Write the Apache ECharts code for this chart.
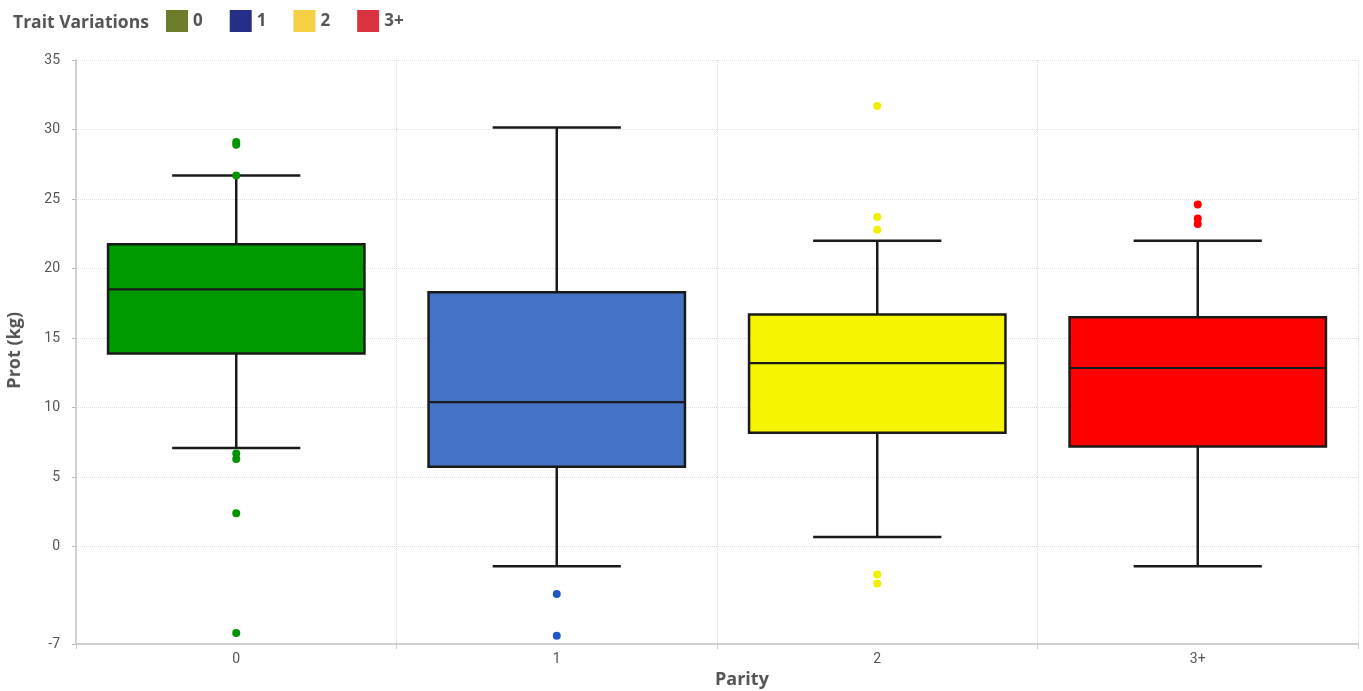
<!DOCTYPE html>
<html>
<head>
<meta charset="utf-8">
<script src="https://cdn.jsdelivr.net/npm/echarts@6/dist/echarts.min.js"></script>
<style>
html,body{margin:0;padding:0;background:#fff;}
#chart{width:1363px;height:691px;}
</style>
</head>
<body>
<div id="chart"></div>
<script>
// ---- data ----
const categories = ['0', '1', '2', '3+'];
const lowWhisker = [7.1, -1.4, 0.7, -1.4];
const q1 = [13.9, 5.75, 8.2, 7.2];
const median = [18.5, 10.4, 13.2, 12.85];
const q3 = [21.75, 18.3, 16.7, 16.5];
const highWhisker = [26.7, 30.15, 22.0, 22.0];
const outliers0 = [29.1, 28.9, 26.7, 6.7, 6.3, 2.4, -6.2];
const outliers1 = [-3.4, -6.4];
const outliers2 = [31.7, 23.7, 22.8, -2.0, -2.65];
const outliers3 = [24.6, 23.6, 23.2];
const yTicks = [-7, 0, 5, 10, 15, 20, 25, 30, 35];
const legendColors = ['#6b7d2a', '#252f87', '#f7cf45', '#d9343f'];
const boxColors = ['#009900', '#4472c4', '#f5f500', '#ff0000'];
const dotColors = ['#009400', '#1f58c4', '#f0f000', '#ff0000'];

const outliers = [outliers0, outliers1, outliers2, outliers3];

function renderBox(params, api) {
  const ci = api.value(0);
  const lo = api.coord([ci, api.value(1)]);
  const b1 = api.coord([ci, api.value(2)]);
  const md = api.coord([ci, api.value(3)]);
  const b3 = api.coord([ci, api.value(4)]);
  const hi = api.coord([ci, api.value(5)]);
  const band = api.size([1, 0])[0];
  const bw = band * 0.8, cw = band * 0.4;
  const cx = lo[0];
  const ls = {stroke: '#1a1a1a', lineWidth: 2.5};
  return {
    type: 'group',
    children: [
      {type: 'line', shape: {x1: cx, y1: hi[1], x2: cx, y2: b3[1]}, style: ls},
      {type: 'line', shape: {x1: cx, y1: b1[1], x2: cx, y2: lo[1]}, style: ls},
      {type: 'line', shape: {x1: cx - cw / 2, y1: hi[1], x2: cx + cw / 2, y2: hi[1]}, style: ls},
      {type: 'line', shape: {x1: cx - cw / 2, y1: lo[1], x2: cx + cw / 2, y2: lo[1]}, style: ls},
      {type: 'rect', shape: {x: cx - bw / 2, y: b3[1], width: bw, height: b1[1] - b3[1]},
        style: {fill: boxColors[ci], stroke: '#1a1a1a', lineWidth: 2.5}},
      {type: 'line', shape: {x1: cx - bw / 2, y1: md[1], x2: cx + bw / 2, y2: md[1]}, style: {stroke: '#1a1a1a', lineWidth: 2.2}}
    ]
  };
}

const series = [];
categories.forEach((c, i) => {
  series.push({
    name: c,
    type: 'custom',
    itemStyle: {color: legendColors[i]},
    renderItem: renderBox,
    encode: {x: 0, y: [1, 2, 3, 4, 5]},
    data: [[i, lowWhisker[i], q1[i], median[i], q3[i], highWhisker[i]]],
    z: 2
  });
});
categories.forEach((c, i) => {
  series.push({
    name: 'out' + c,
    type: 'scatter',
    symbolSize: 8,
    itemStyle: {color: dotColors[i], opacity: 1},
    data: outliers[i].map(v => [i, v]),
    z: 5
  });
});

const labelFont = {fontFamily: 'Open Sans', fontWeight: 'bold', fontSize: 17, color: '#555'};

const chart = echarts.init(document.getElementById('chart'));
chart.setOption({
  animation: false,
  backgroundColor: '#fff',
  title: {
    text: 'Trait Variations', left: 8, top: 9,
    textStyle: {fontFamily: 'Open Sans', fontWeight: 'bold', fontSize: 17.5, color: '#555'}
  },
  legend: {
    data: categories, left: 161, top: 5,
    icon: 'rect', itemWidth: 22, itemHeight: 22, itemGap: 27,
    textStyle: labelFont
  },
  grid: {left: 76, right: 5, top: 60, bottom: 47},
  xAxis: {
    type: 'category', data: categories, boundaryGap: true,
    axisLine: {onZero: false, lineStyle: {color: '#d0d0d0', width: 2}},
    axisTick: {show: true, lineStyle: {color: '#ccc'}},
    axisLabel: {color: '#555', fontSize: 14, fontFamily: 'Roboto', margin: 8},
    splitLine: {show: true, lineStyle: {color: '#d8d8d8', type: 'dotted', width: 1}}
  },
  yAxis: {
    type: 'value', min: -7, max: 35,
    axisLine: {show: true, lineStyle: {color: '#d0d0d0', width: 2}},
    axisTick: {show: true, length: 4, customValues: yTicks, lineStyle: {color: '#bbb'}},
    axisLabel: {color: '#555', fontSize: 14, fontFamily: 'Roboto', margin: 16, customValues: yTicks},
    splitLine: {show: true, lineStyle: {color: '#dedede', type: 'dotted', width: 1}}
  },
  graphic: [
    {type: 'text', left: 6, top: 312, rotation: Math.PI / 2,
      style: {text: 'Prot (kg)', fontFamily: 'Open Sans', fontWeight: 'bold', fontSize: 18, fill: '#555'}},
    {type: 'text', left: 715, top: 671,
      style: {text: 'Parity', fontFamily: 'Open Sans', fontWeight: 'bold', fontSize: 18, fill: '#555'}}
  ],
  series: series
});
</script>
</body>
</html>
